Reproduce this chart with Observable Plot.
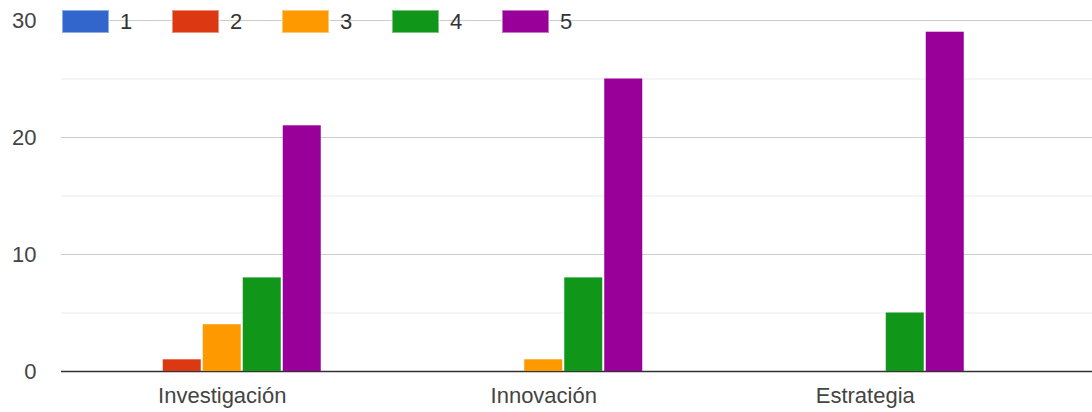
<!DOCTYPE html>
<html>
<head>
<meta charset="utf-8">
<script src="https://cdn.jsdelivr.net/npm/d3@7"></script>
<script src="https://cdn.jsdelivr.net/npm/@observablehq/plot@0.6"></script>
<style>
  body { margin: 0; background: #fff; }
  #chart { position: relative; width: 1092px; height: 412px; overflow: hidden; background: #fff; }
  #chart > svg { position: absolute; left: 0; top: 0; }
  /* legend row laid over the top gridline */
  .lg-swatches {
    position: absolute; left: 62px; top: 10px; margin: 0;
    display: flex; flex-wrap: nowrap; min-height: 0;
    font: 22px Arial, "Liberation Sans", sans-serif; line-height: 23px; color: #333;
  }
  .lg-swatch { display: inline-flex; align-items: center; margin: 0; width: 110px; height: 23px; }
  .lg-swatch > svg { margin-right: 11px; }
  .lg-swatch rect { stroke: rgba(255,255,255,0.45); stroke-width: 2px; }
</style>
</head>
<body>
<div id="chart"></div>
<script>
// Survey answers: how many people picked each rating (1–5) per topic
const categories = ["Investigación", "Innovación", "Estrategia"];
const ratings = ["1", "2", "3", "4", "5"];
const rating1 = [0, 0, 0];
const rating2 = [1, 0, 0];
const rating3 = [4, 1, 0];
const rating4 = [8, 8, 5];
const rating5 = [21, 25, 29];
const colors = ["#3366cc", "#dc3912", "#ff9900", "#109618", "#990099"];
const majorTicks = [0, 10, 20, 30];
const minorTicks = [5, 15, 25];

const series = [rating1, rating2, rating3, rating4, rating5];
const rows = ratings.flatMap((rating, i) =>
  categories.map((category, j) => ({category, rating, count: series[i][j]}))
);

const W = 1092, H = 412;
const font = {fontFamily: "Arial, 'Liberation Sans', sans-serif", fontSize: "22px", color: "#444", background: "transparent"};
const yScale = {domain: [0, 30]};

// Back layer: value axis and full-width gridlines
const back = Plot.plot({
  width: W, height: H,
  marginLeft: 61, marginRight: 0, marginTop: 20, marginBottom: 41,
  style: font,
  y: yScale,
  marks: [
    Plot.ruleY(minorTicks, {stroke: "#ebebeb"}),
    Plot.ruleY(majorTicks.filter(d => d > 0), {stroke: "#cccccc"}),
    Plot.axisY(majorTicks, {tickSize: 0, tickPadding: 25, label: null}),
    Plot.ruleY([0], {stroke: "#333", strokeWidth: 1.5})
  ]
});

// Front layer: grouped bars, one group per topic
const front = Plot.plot({
  width: W, height: H,
  marginLeft: 61, marginRight: 66.5, marginTop: 20, marginBottom: 41,
  style: font,
  y: {...yScale, axis: null},
  x: {domain: ratings, paddingInner: 0.05, paddingOuter: 1.54375, round: false, axis: null},
  fx: {domain: categories, paddingInner: 0, paddingOuter: 0, round: false, axis: null},
  color: {domain: ratings, range: colors},
  facet: {data: rows, x: "category"},
  marks: [
    Plot.barY(rows, {x: "rating", y: "count", fill: "rating"}),
    Plot.axisFx({anchor: "bottom", tickSize: 0, tickPadding: 16, label: null})
  ]
});

const chart = document.getElementById("chart");
chart.append(back, front);
chart.append(front.legend("color", {swatchWidth: 47, swatchHeight: 23, className: "lg"}));
</script>
</body>
</html>
